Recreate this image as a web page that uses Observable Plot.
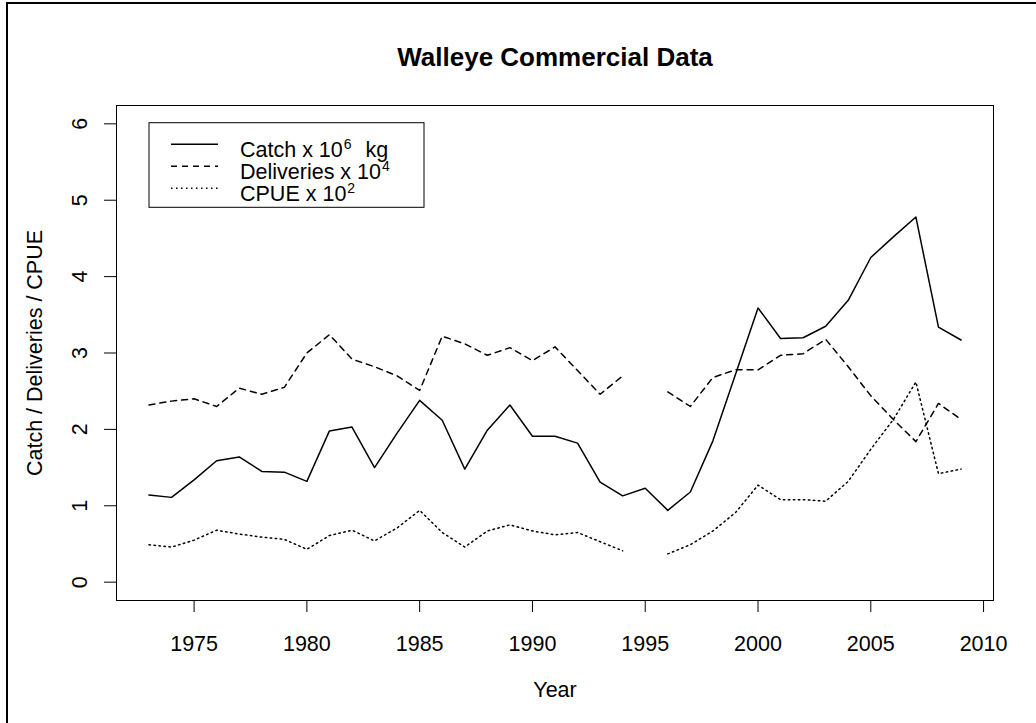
<!DOCTYPE html>
<html><head><meta charset="utf-8">
<script src="https://cdn.jsdelivr.net/npm/d3@7"></script>
<script src="https://cdn.jsdelivr.net/npm/@observablehq/plot@0.6"></script>
<style>
html,body{margin:0;padding:0;background:#fff;overflow:hidden;}
#wrap{position:relative;width:1036px;height:723px;overflow:hidden;background:#fff;}
#chart{position:absolute;left:0;top:0;}
#border{position:absolute;left:6px;top:2px;width:1100px;height:800px;border-top:2px solid #000;border-left:2px solid #000;pointer-events:none;}
</style></head><body><div id="wrap"><div id="chart"></div><div id="border"></div></div>
<script>
const years = [1973,1974,1975,1976,1977,1978,1979,1980,1981,1982,1983,1984,1985,1986,1987,1988,1989,1990,1991,1992,1993,1994,1995,1996,1997,1998,1999,2000,2001,2002,2003,2004,2005,2006,2007,2008,2009];
const catchVals = [1.14,1.11,1.34,1.59,1.64,1.45,1.44,1.32,1.98,2.03,1.50,1.95,2.38,2.12,1.48,1.99,2.32,1.91,1.91,1.82,1.31,1.13,1.23,0.94,1.18,1.85,2.72,3.59,3.19,3.20,3.35,3.69,4.25,4.52,4.78,3.34,3.17];
const deliveries = [2.32,2.37,2.40,2.30,2.54,2.46,2.55,3.00,3.24,2.92,2.82,2.70,2.51,3.22,3.12,2.97,3.07,2.90,3.08,2.77,2.46,2.70,null,2.49,2.30,2.68,2.78,2.78,2.97,2.99,3.18,2.82,2.44,2.13,1.84,2.34,2.13];
const cpue = [0.49,0.46,0.55,0.68,0.63,0.59,0.56,0.43,0.61,0.68,0.54,0.71,0.94,0.65,0.46,0.67,0.75,0.67,0.62,0.65,0.53,0.41,null,0.37,0.49,0.67,0.91,1.27,1.08,1.08,1.06,1.32,1.74,2.13,2.62,1.42,1.48];
const xTicks = [1975,1980,1985,1990,1995,2000,2005,2010];
const yTicks = [0,1,2,3,4,5,6];
const title = "Walleye Commercial Data";
const xLabel = "Year";
const yLabel = "Catch / Deliveries / CPUE";
const legendItems = [
  {base: "Catch x 10", sup: "6", after: " kg", dash: null},
  {base: "Deliveries x 10", sup: "4", after: "", dash: "6,5"},
  {base: "CPUE x 10", sup: "2", after: "", dash: "1.5,3.5"}
];

const toRows = vals => years.map((year, i) => ({year, value: vals[i] == null ? NaN : vals[i]}));
const FONT = "'Liberation Sans', Arial, sans-serif";
const FS = 21.5;

const plot = Plot.plot({
  width: 1036,
  height: 723,
  marginLeft: 116,
  marginRight: 43,
  marginTop: 105,
  marginBottom: 123,
  style: {fontFamily: FONT, fontSize: FS + "px", background: "white", color: "black"},
  x: {domain: [1971.56, 2010.44], label: null},
  y: {domain: [-0.24, 6.24], label: null},
  marks: [
    Plot.frame({stroke: "black", strokeWidth: 1}),
    Plot.line(toRows(catchVals), {x: "year", y: "value", stroke: "black", strokeWidth: 1.5}),
    Plot.line(toRows(deliveries), {x: "year", y: "value", stroke: "black", strokeWidth: 1.5, strokeDasharray: "6,5"}),
    Plot.line(toRows(cpue), {x: "year", y: "value", stroke: "black", strokeWidth: 1.5, strokeDasharray: "1.5,3.5"}),
    Plot.axisX({ticks: xTicks, tickSize: 12, tickPadding: 23, tickFormat: d => String(d), label: null}),
    Plot.axisY({ticks: yTicks, tickSize: 12, tickFormat: () => "", label: null}),
    Plot.text(yTicks, {y: d => d, text: d => String(d), frameAnchor: "left", dx: -36, rotate: -90, textAnchor: "middle", lineAnchor: "middle"}),
    Plot.text([title], {frameAnchor: "top", dy: -48, fontWeight: "bold", fontSize: 26, textAnchor: "middle", lineAnchor: "middle"}),
    Plot.text([xLabel], {frameAnchor: "bottom", dy: 90, textAnchor: "middle", lineAnchor: "middle"}),
    Plot.text([yLabel], {frameAnchor: "left", dx: -81, rotate: -90, textAnchor: "middle", lineAnchor: "middle"})
  ]
});
document.getElementById("chart").append(plot);

// legend (R-style box) placed relative to the plot frame
const svg = d3.select(plot);
const fx = 116, fy = 105;
const lg = svg.append("g").attr("font-family", FONT).attr("font-size", FS).attr("text-anchor", "start");
lg.append("rect").attr("x", fx + 33).attr("y", fy + 17.7).attr("width", 275).attr("height", 84.6)
  .attr("fill", "white").attr("stroke", "black").attr("stroke-width", 1);
legendItems.forEach((d, i) => {
  const ly = fy + 39.3 + i * 22;
  lg.append("line").attr("x1", fx + 55).attr("x2", fx + 102).attr("y1", ly).attr("y2", ly)
    .attr("stroke", "black").attr("stroke-width", 1.5).attr("stroke-dasharray", d.dash);
  const t = lg.append("text").attr("x", fx + 124).attr("y", ly + 13).attr("fill", "black").attr("text-anchor", "start");
  t.append("tspan").text(d.base);
  t.append("tspan").attr("dy", -8).attr("dx", 1).attr("font-size", 14).text(d.sup);
  if (d.after) t.append("tspan").attr("dy", 8).attr("dx", 8).text(d.after);
});
</script>
</body></html>
